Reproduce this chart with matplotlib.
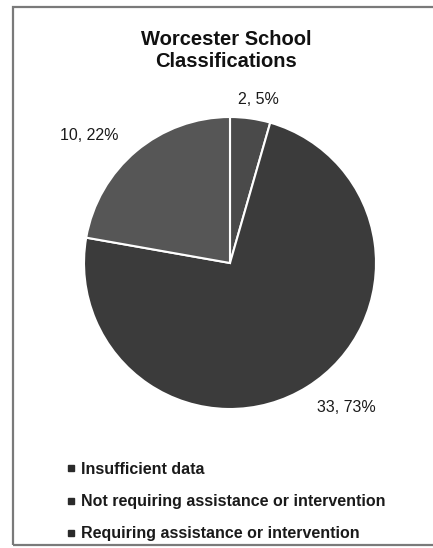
import numpy as np
import matplotlib.pyplot as plt
from matplotlib.patches import Rectangle
from matplotlib.lines import Line2D

plt.rcParams['font.family'] = ['Liberation Sans', 'DejaVu Sans']

categories = ['Insufficient data',
              'Not requiring assistance or intervention',
              'Requiring assistance or intervention']
counts = [2, 33, 10]
percents = [5, 73, 22]
colors = ['#4a4a4a', '#3b3b3b', '#565656']
label_dist = [1.14, 1.27, 1.30]
label_shift = [-2, 6.7, 8]  # degrees away from the wedge middle

W, H = 433, 548
fig = plt.figure(figsize=(W / 100, H / 100), dpi=100)

# outer frame of the scanned page
fig.patches.append(Rectangle((13 / W, 3 / H), 1.2, (H - 10) / H,
                             transform=fig.transFigure, fill=False,
                             edgecolor='#7a7a7a', linewidth=1.6))

cx, cy, r = 230, 263, 146
ax = fig.add_axes([(cx - r) / W, (H - cy - r) / H, 2 * r / W, 2 * r / H])
wedges, _ = ax.pie(counts, colors=colors, startangle=90, counterclock=False,
                   wedgeprops=dict(edgecolor='white', linewidth=1.5))
ax.set_xlim(-1, 1)
ax.set_ylim(-1, 1)
ax.set_aspect('auto')
ax.axis('off')

for w, n, p, d, s in zip(wedges, counts, percents, label_dist, label_shift):
    mid = np.deg2rad((w.theta1 + w.theta2) / 2 + s)
    ax.text(d * np.cos(mid), d * np.sin(mid), f'{n}, {p}%',
            ha='center', va='center', fontsize=11.5, color='#1a1a1a',
            clip_on=False)

fig.text(226 / W, 1 - 50 / H, 'Worcester School\nClassifications',
         ha='center', va='center', fontsize=14.5, fontweight='bold',
         linespacing=1.2, color='#111111')

handles = [Line2D([], [], marker='s', linestyle='', markersize=4,
                  color='#2a2a2a') for _ in categories]
leg = fig.legend(handles, categories, loc='upper left',
                 bbox_to_anchor=(58 / W, 1 - 454 / H), frameon=False,
                 prop=dict(size=11.5, weight='bold'),
                 handlelength=0.6, handletextpad=0.35,
                 labelspacing=1.08, borderpad=0)
for t in leg.get_texts():
    t.set_color('#1a1a1a')

fig.savefig('out.png', dpi=100)
